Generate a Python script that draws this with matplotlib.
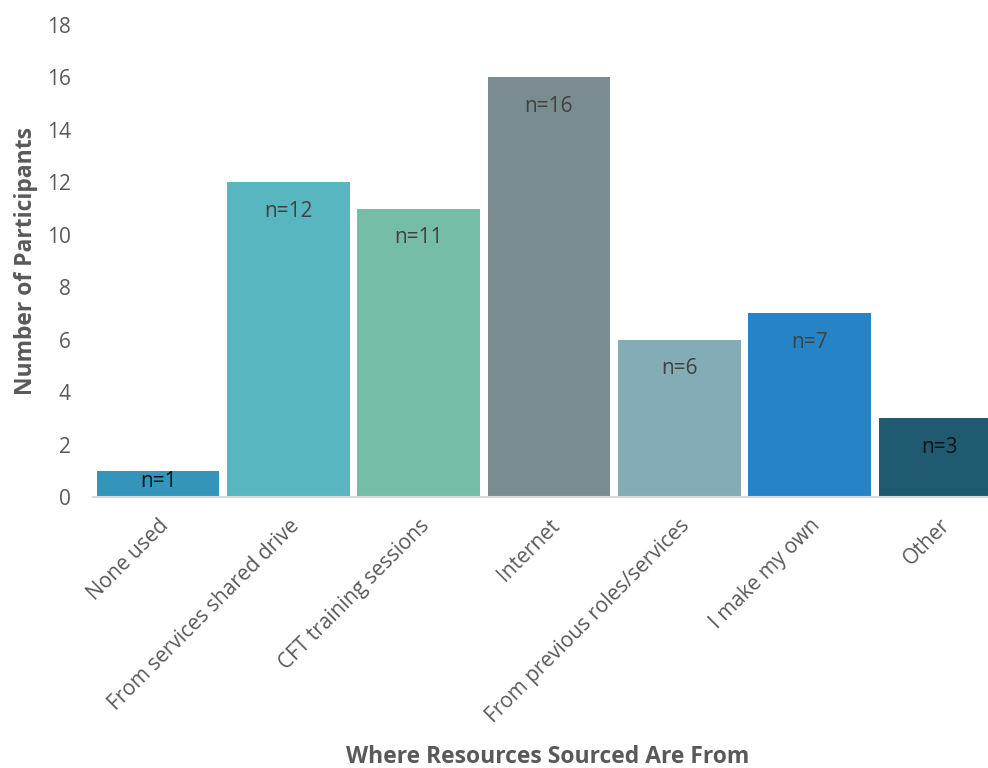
import matplotlib.pyplot as plt

plt.rcParams['font.family'] = ['Open Sans', 'DejaVu Sans']

categories = ["None used", "From services shared drive", "CFT training sessions",
              "Internet", "From previous roles/services", "I make my own", "Other"]
counts = [1, 12, 11, 16, 6, 7, 3]
labels = ["n=1", "n=12", "n=11", "n=16", "n=6", "n=7", "n=3"]
colors = ["#3494BA", "#58B6C0", "#75BDA7", "#7A8C8E", "#84ACB6", "#2683C6", "#1F5A70"]
label_colors = ["#111111", "#404040", "#404040", "#404040", "#404040", "#404040", "#111111"]
yticks = [0, 2, 4, 6, 8, 10, 12, 14, 16, 18]

fig = plt.figure(figsize=(9.88, 7.68), dpi=100)
ax = fig.add_axes([93 / 988, 1 - 497 / 768, 912 / 988, 472 / 768])

x = list(range(len(categories)))
ax.bar(x, counts, width=0.94, color=colors, zorder=2)
for xi, c, lab, lc in zip(x, counts, labels, label_colors):
    # small bars get the label in the middle, others just under the top
    ytxt = c - 1.1 if c > 2 else c * 0.6
    ax.text(xi, ytxt, lab, ha='center', va='center', fontsize=15, color=lc, zorder=3)

ax.set_xlim(-0.5, len(categories) - 0.5)
ax.set_ylim(0, 18)
ax.set_yticks(yticks)
ax.set_xticks(x)
ax.set_xticklabels(categories, rotation=45, ha='right', rotation_mode='anchor')
ax.tick_params(axis='both', length=0, labelsize=15, labelcolor='#595959')
ax.tick_params(axis='y', pad=16)
ax.tick_params(axis='x', pad=13)
for side in ['top', 'right', 'left']:
    ax.spines[side].set_visible(False)
ax.spines['bottom'].set_color('#d9d9d9')
ax.spines['bottom'].set_linewidth(1.5)

ax.set_ylabel("Number of Participants", fontsize=16.5, fontweight='bold', color='#595959')
ax.yaxis.set_label_coords((38 - 93) / 912, 0.5)
fig.text(548 / 988, 1 - 757 / 768, "Where Resources Sourced Are From", ha='center', va='center',
         fontsize=16.5, fontweight='bold', color='#595959')

fig.savefig("out.png", dpi=100)
